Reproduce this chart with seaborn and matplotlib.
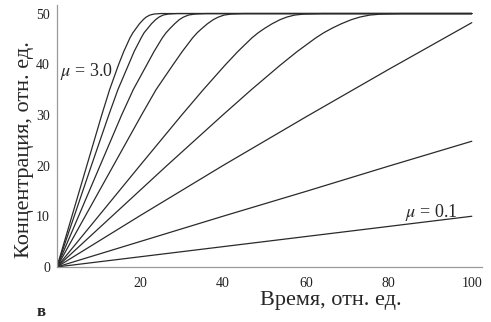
import matplotlib
matplotlib.use('Agg')
import pandas as pd
import matplotlib.pyplot as plt
import seaborn as sns
from matplotlib.ticker import MultipleLocator

# Данные
mu_values = [3.0, 2.5, 2.0, 1.5, 1.0, 0.75, 0.5, 0.25, 0.1]

# кривые с насыщением (общие значения концентрации)
conc_sat = [0, 20, 30, 35, 39.8, 42.5, 45.2, 46.2, 47.1, 48.0, 48.8, 49.3, 49.7, 49.9, 50.0, 50.0]
t_mu30 = [0, 7.2, 10.8, 12.7, 14.8, 16.1, 17.6, 18.3, 19.1, 19.9, 20.8, 21.5, 22.4, 23.4, 25.0, 100]
t_mu25 = [0, 8.3, 12.5, 14.7, 17.2, 18.6, 20.3, 21.0, 21.9, 22.8, 23.8, 24.6, 25.6, 26.8, 29.0, 100]
t_mu20 = [0, 10.4, 15.6, 18.4, 21.6, 23.4, 25.4, 26.3, 27.3, 28.4, 29.5, 30.5, 31.7, 33.2, 36.0, 100]
t_mu15 = [0, 13.6, 20.4, 23.9, 27.9, 30.2, 32.7, 33.8, 35.0, 36.3, 37.7, 38.9, 40.3, 42.0, 45.0, 100]
t_mu10 = [0, 20.0, 30.1, 35.3, 40.5, 43.6, 47.0, 48.5, 50.1, 51.9, 53.8, 55.4, 57.3, 59.6, 64.0, 100]
t_mu075 = [0, 26.5, 40.0, 46.9, 53.8, 57.9, 62.4, 64.3, 66.3, 68.6, 71.0, 73.0, 75.4, 78.3, 83.0, 100]

# почти линейные кривые
t_lin = [0, 20, 40, 60, 80, 100]
c_mu05 = [0, 10.1, 20.0, 29.6, 39.0, 48.2]
c_mu025 = [0, 5.0, 10.0, 14.9, 19.9, 24.8]
c_mu01 = [0, 2.0, 4.0, 6.0, 8.0, 10.0]

x_ticks = [20, 40, 60, 80, 100]
y_ticks = [0, 10, 20, 30, 40, 50]

curves = [
    (t_mu30, conc_sat), (t_mu25, conc_sat), (t_mu20, conc_sat),
    (t_mu15, conc_sat), (t_mu10, conc_sat), (t_mu075, conc_sat),
    (t_lin, c_mu05), (t_lin, c_mu025), (t_lin, c_mu01),
]

rows = []
for mu, (ts, cs) in zip(mu_values, curves):
    for t, c in zip(ts, cs):
        rows.append({'mu': mu, 't': t, 'C': c})
df = pd.DataFrame(rows)

sns.set_style('white')
plt.rcParams['font.family'] = ['Liberation Serif', 'DejaVu Serif']
plt.rcParams['mathtext.fontset'] = 'stix'

fig = plt.figure(figsize=(4.91, 3.22), dpi=100)
ax = fig.add_axes([0.116, 0.171, 0.866, 0.8137])

for mu in mu_values:
    sub = df[df['mu'] == mu]
    sns.lineplot(data=sub, x='t', y='C', ax=ax, color='#2a2a2a', lw=0.9,
                 sort=False, estimator=None)

ax.set_xlim(0, 102.5)
ax.set_ylim(0, 51.7)
ax.set_xticks(x_ticks)
ax.set_yticks(y_ticks)
ax.xaxis.set_minor_locator(MultipleLocator(10))
ax.yaxis.set_minor_locator(MultipleLocator(5))
ax.tick_params(axis='both', which='major', direction='in', length=3,
               color='#999999', labelsize=10, labelcolor='#222222')
ax.tick_params(axis='x', which='major', pad=7)
ax.tick_params(axis='y', which='major', pad=5)
ax.tick_params(axis='both', which='minor', direction='in', length=2,
               color='#999999')
ax.set_xlabel('')
ax.set_ylabel('')

sns.despine(ax=ax)
for side in ['left', 'bottom']:
    ax.spines[side].set_color('#999999')
    ax.spines[side].set_linewidth(0.9)

ax.text(0.7, 38.6, r'$\mu$ = 3.0', fontsize=13, va='center', ha='left')
ax.text(83.9, 10.8, r'$\mu$ = 0.1', fontsize=13, va='center', ha='left')

fig.text(331 / 491, 22 / 322, 'Время, отн. ед.', fontsize=16,
         ha='center', va='center')
fig.text(25 / 491, 0.537, 'Концентрация, отн. ед.', fontsize=16,
         ha='center', va='center', rotation=90)
fig.text(41 / 491, 10 / 322, 'в', fontsize=12, fontweight='bold',
         ha='center', va='center')

fig.savefig('out.png', dpi=100)
